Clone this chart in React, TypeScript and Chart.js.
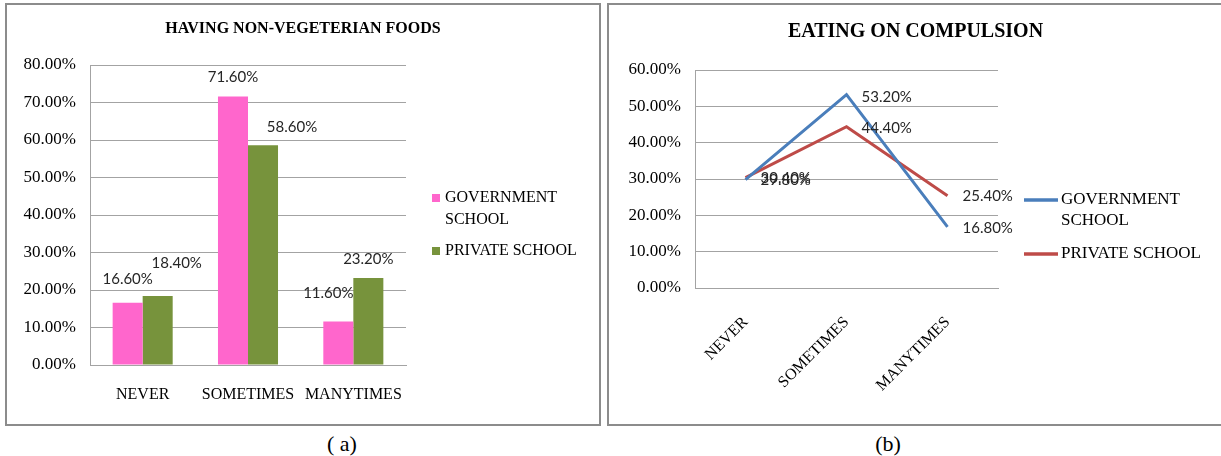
import React, { useEffect, useRef } from "react";
import { Chart, registerables } from "chart.js";

Chart.register(...registerables);

// ---------- data ----------
const categories = ["NEVER", "SOMETIMES", "MANYTIMES"];
const seriesNames = ["GOVERNMENT SCHOOL", "PRIVATE SCHOOL"];

const nonVegGovernment = [16.6, 71.6, 11.6];
const nonVegPrivate = [18.4, 58.6, 23.2];
const nonVegTitle = "HAVING NON-VEGETERIAN FOODS";
const nonVegAxisMax = 80;

const compulsionGovernment = [29.8, 53.2, 16.8];
const compulsionPrivate = [30.4, 44.4, 25.4];
const compulsionTitle = "EATING ON COMPULSION";
const compulsionAxisMax = 60;

const captions = ["( a)", "(b)"];

// ---------- styles ----------
const SERIF = "'Liberation Serif', 'Times New Roman', serif";
const SANS = "Lato, 'Open Sans', sans-serif";
const GRID = "#a3a3a3";
const PINK = "#ff66cc";
const OLIVE = "#77933c";
const BLUE = "#4a7ebb";
const RED = "#be4b48";

// label offsets (pixels, relative to the mark) — style only
const nonVegLabelOffsets = [
  [[0, -24], [0, -19], [-10, -28]],
  [[19, -33], [29, -18], [0, -19]],
];
const compulsionLabelOffsets = [
  [[15, 0], [15, 2], [15, 1]],
  [[15, 1], [15, 1], [15, 0]],
];

const pct = (v: number) => v.toFixed(2) + "%";

function wrapText(ctx: CanvasRenderingContext2D, text: string, maxWidth: number) {
  const words = text.split(" ");
  const lines: string[] = [];
  let cur = "";
  for (const w of words) {
    const test = cur ? cur + " " + w : w;
    if (ctx.measureText(test).width > maxWidth && cur) {
      lines.push(cur);
      cur = w;
    } else cur = test;
  }
  if (cur) lines.push(cur);
  return lines;
}

function makeCenteredTitle(cfg: { text: string; font: string; y: number }) {
  return {
    id: "centeredTitle",
    afterDraw(chart: any) {
      const ctx = chart.ctx as CanvasRenderingContext2D;
      ctx.save();
      ctx.font = cfg.font;
      ctx.fillStyle = "#000";
      ctx.textAlign = "center";
      ctx.textBaseline = "middle";
      ctx.fillText(cfg.text, chart.width / 2, cfg.y);
      ctx.restore();
    },
  };
}

function makeValueLabels(cfg: { font: string; align: CanvasTextAlign; offsets: number[][][] }) {
  return {
    id: "valueLabels",
    afterDatasetsDraw(chart: any) {
      const ctx = chart.ctx as CanvasRenderingContext2D;
      ctx.save();
      ctx.font = cfg.font;
      ctx.fillStyle = "#262626";
      ctx.textAlign = cfg.align;
      ctx.textBaseline = "middle";
      chart.data.datasets.forEach((ds: any, di: number) => {
        const meta = chart.getDatasetMeta(di);
        meta.data.forEach((el: any, i: number) => {
          const off = cfg.offsets[di][i];
          ctx.fillText(pct(ds.data[i]), el.x + off[0], el.y + off[1]);
        });
      });
      ctx.restore();
    },
  };
}

function makeSideLegend(cfg: {
  kind: "box" | "line";
  font: string;
  top: number;
  lineHeight: number;
  itemGap: number;
  markerOffset: number;
  markerSize: number;
  textOffset: number;
  maxWidth: number;
}) {
  return {
    id: "sideLegend",
    afterDraw(chart: any) {
      const ctx = chart.ctx as CanvasRenderingContext2D;
      const right = chart.chartArea.right;
      ctx.save();
      ctx.font = cfg.font;
      ctx.textBaseline = "middle";
      ctx.textAlign = "left";
      let y = cfg.top;
      chart.data.datasets.forEach((ds: any) => {
        const lines = wrapText(ctx, ds.label, cfg.maxWidth);
        const mx = right + cfg.markerOffset;
        if (cfg.kind === "box") {
          ctx.fillStyle = ds.backgroundColor;
          ctx.fillRect(mx, y - cfg.markerSize / 2, cfg.markerSize, cfg.markerSize);
        } else {
          ctx.strokeStyle = ds.borderColor;
          ctx.lineWidth = 3.5;
          ctx.beginPath();
          ctx.moveTo(mx, y);
          ctx.lineTo(mx + cfg.markerSize, y);
          ctx.stroke();
        }
        ctx.fillStyle = "#000";
        lines.forEach((ln, k) => ctx.fillText(ln, right + cfg.textOffset, y + k * cfg.lineHeight));
        y += (lines.length - 1) * cfg.lineHeight + cfg.itemGap;
      });
      ctx.restore();
    },
  };
}

function BarPanel() {
  const ref = useRef<HTMLCanvasElement>(null);
  useEffect(() => {
    const chart = new Chart(ref.current!, {
      type: "bar",
      data: {
        labels: categories,
        datasets: [
          { label: seriesNames[0], data: nonVegGovernment, backgroundColor: PINK, categoryPercentage: 0.57, barPercentage: 1 },
          { label: seriesNames[1], data: nonVegPrivate, backgroundColor: OLIVE, categoryPercentage: 0.57, barPercentage: 1 },
        ],
      },
      options: {
        responsive: false,
        animation: false,
        events: [],
        layout: { padding: { left: 0, right: 192, top: 59, bottom: 8 } },
        plugins: {
          legend: { display: false },
          tooltip: { enabled: false },
          title: { display: false },
        },
        scales: {
          x: {
            grid: { display: false, drawTicks: false },
            border: { display: true, color: GRID },
            ticks: { color: "#000", font: { family: SERIF, size: 16 }, padding: 20, maxRotation: 0, autoSkip: false },
            afterFit: (s: any) => { s.height = 50; },
          },
          y: {
            min: 0,
            max: nonVegAxisMax,
            grid: { color: GRID, drawTicks: false },
            border: { display: true, color: GRID },
            ticks: { stepSize: 10, color: "#000", font: { family: SERIF, size: 17 }, padding: 14, callback: (v: any) => pct(Number(v)) },
            afterFit: (s: any) => { s.width = 82; },
          },
        },
      },
      plugins: [
        makeCenteredTitle({ text: nonVegTitle, font: `bold 16px ${SERIF}`, y: 23 }),
        makeValueLabels({ font: `15px ${SANS}`, align: "center", offsets: nonVegLabelOffsets }),
        makeSideLegend({ kind: "box", font: `16px ${SERIF}`, top: 192, lineHeight: 22, itemGap: 31, markerOffset: 26, markerSize: 8, textOffset: 39, maxWidth: 150 }),
      ],
    } as any);
    return () => chart.destroy();
  }, []);
  return <canvas ref={ref} width={590} height={417} style={{ position: "absolute", left: 8, top: 6, width: 590, height: 417 }} />;
}

function LinePanel() {
  const ref = useRef<HTMLCanvasElement>(null);
  useEffect(() => {
    const chart = new Chart(ref.current!, {
      type: "line",
      data: {
        labels: categories,
        datasets: [
          { label: seriesNames[0], data: compulsionGovernment, borderColor: BLUE, backgroundColor: BLUE, borderWidth: 3, pointRadius: 0, tension: 0 },
          { label: seriesNames[1], data: compulsionPrivate, borderColor: RED, backgroundColor: RED, borderWidth: 3, pointRadius: 0, tension: 0 },
        ],
      },
      options: {
        responsive: false,
        animation: false,
        events: [],
        layout: { padding: { left: 0, right: 223, top: 65, bottom: 5 } },
        plugins: {
          legend: { display: false },
          tooltip: { enabled: false },
          title: { display: false },
        },
        scales: {
          x: {
            offset: true,
            grid: { display: false, drawTicks: false },
            border: { display: true, color: GRID },
            ticks: { color: "#000", font: { family: SERIF, size: 16 }, padding: 25, minRotation: 45, maxRotation: 45, autoSkip: false },
            afterFit: (s: any) => { s.height = 130; },
          },
          y: {
            min: 0,
            max: compulsionAxisMax,
            grid: { color: GRID, drawTicks: false },
            border: { display: true, color: GRID },
            ticks: { stepSize: 10, color: "#000", font: { family: SERIF, size: 17 }, padding: 14, callback: (v: any) => pct(Number(v)) },
            afterFit: (s: any) => { s.width = 85; },
          },
        },
      },
      plugins: [
        makeCenteredTitle({ text: compulsionTitle, font: `bold 20px ${SERIF}`, y: 27 }),
        makeValueLabels({ font: `15px ${SANS}`, align: "left", offsets: compulsionLabelOffsets }),
        makeSideLegend({ kind: "line", font: `17px ${SERIF}`, top: 195, lineHeight: 21, itemGap: 33, markerOffset: 26, markerSize: 34, textOffset: 63, maxWidth: 150 }),
      ],
    } as any);
    return () => chart.destroy();
  }, []);
  return <canvas ref={ref} width={611} height={418} style={{ position: "absolute", left: 610, top: 5, width: 611, height: 418 }} />;
}

export default function App() {
  const border = "2px solid #8c8c8c";
  return (
    <div style={{ position: "absolute", left: 0, top: 0, width: 1221, height: 456, overflow: "hidden", background: "#fff" }}>
      <div style={{ position: "absolute", left: 5, top: 3, width: 596, height: 423, border, boxSizing: "border-box" }} />
      <div style={{ position: "absolute", left: 607, top: 3, width: 700, height: 423, border, boxSizing: "border-box" }} />
      <BarPanel />
      <LinePanel />
      <div style={{ position: "absolute", left: 292, top: 430, width: 100, textAlign: "center", font: `22px ${SERIF}`, lineHeight: "28px", color: "#000" }}>{captions[0]}</div>
      <div style={{ position: "absolute", left: 838, top: 430, width: 100, textAlign: "center", font: `22px ${SERIF}`, lineHeight: "28px", color: "#000" }}>{captions[1]}</div>
    </div>
  );
}
